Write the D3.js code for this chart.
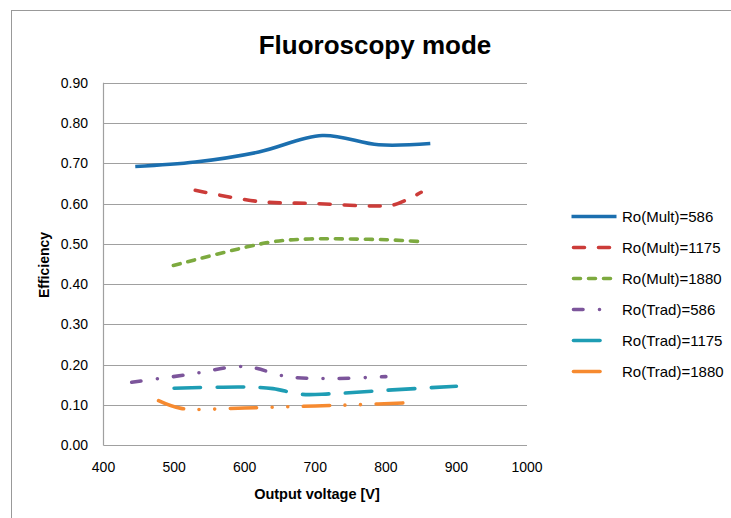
<!DOCTYPE html>
<html><head><meta charset="utf-8">
<script src="https://cdn.jsdelivr.net/npm/d3@7"></script>
<style>body{margin:0;background:#fff}svg{display:block}text{font-family:"Liberation Sans",Arial,sans-serif;fill:#000}</style>
</head><body><svg id="c" width="731" height="518"></svg>
<script>
const title = "Fluoroscopy mode";
const xTitle = "Output voltage [V]";
const yTitle = "Efficiency";
const xTicks = [400,500,600,700,800,900,1000];
const yTicks = [0,0.1,0.2,0.3,0.4,0.5,0.6,0.7,0.8,0.9];
const seriesNames = ["Ro(Mult)=586","Ro(Mult)=1175","Ro(Mult)=1880","Ro(Trad)=586","Ro(Trad)=1175","Ro(Trad)=1880"];
const multR586V  = [445,530,620,710,790,863];
const multR586E  = [0.692,0.703,0.728,0.769,0.746,0.749];
const multR1175V = [530,620,700,780,812,850];
const multR1175E = [0.633,0.605,0.600,0.594,0.597,0.628];
const multR1880V = [499,636,692,744,801,855];
const multR1880E = [0.446,0.504,0.512,0.512,0.510,0.505];
const tradR586V  = [440,520,600,660,720,800];
const tradR586E  = [0.156,0.175,0.195,0.170,0.165,0.170];
const tradR1175V = [500,600,640,680,720,800,900];
const tradR1175E = [0.141,0.144,0.140,0.126,0.127,0.136,0.146];
const tradR1880V = [478,510,600,700,760,830];
const tradR1880E = [0.110,0.091,0.092,0.097,0.100,0.105];

const colors = ["#1B6FAF","#CC3C39","#7DAA3F","#7C559B","#1E9DB4","#F68A30"];
const dashes = [null,"11,14","7,8","9.5,16.5,0,16","26.5,16.5","26.5,15.5,0,15.5,0,15.5"];
const series = [
  [multR586V,multR586E],[multR1175V,multR1175E],[multR1880V,multR1880E],
  [tradR586V,tradR586E],[tradR1175V,tradR1175E],[tradR1880V,tradR1880E]
].map((s,i)=>({name:seriesNames[i],pts:s[0].map((v,j)=>[v,s[1][j]])}));

const svg = d3.select("#c");
svg.append("rect").attr("x",11.5).attr("y",10.5).attr("width",760).attr("height",560)
  .attr("fill","none").attr("stroke","#999").attr("stroke-width",1);

const x = d3.scaleLinear().domain([400,1000]).range([103.5,527]);
const y = d3.scaleLinear().domain([0,0.9]).range([445,82.8]);

const g = svg.append("g");
g.selectAll("line.grid").data(yTicks).join("line").attr("class","grid")
  .attr("x1",x(400)).attr("x2",x(1000)).attr("y1",d=>Math.round(y(d))+0.5).attr("y2",d=>Math.round(y(d))+0.5)
  .attr("stroke","#A0A0A0").attr("stroke-width",1.2);
g.append("line").attr("x1",x(400)).attr("x2",x(400)).attr("y1",y(0.9)).attr("y2",y(0)+0.5)
  .attr("stroke","#A0A0A0").attr("stroke-width",1.2);

g.selectAll("text.yt").data(yTicks).join("text").attr("class","yt")
  .attr("x",88).attr("y",d=>y(d)+5).attr("text-anchor","end").attr("font-size",14)
  .text(d=>d.toFixed(2));
g.selectAll("text.xt").data(xTicks).join("text").attr("class","xt")
  .attr("x",d=>x(d)).attr("y",472).attr("text-anchor","middle").attr("font-size",14)
  .text(d=>d);

const line = d3.line().x(d=>x(d[0])).y(d=>y(d[1])).curve(d3.curveCatmullRom.alpha(0.5));
series.forEach((s,i)=>{
  g.append("path").attr("d",line(s.pts)).attr("fill","none").attr("stroke",colors[i])
    .attr("stroke-width",3.6).attr("stroke-linecap",i===0?"butt":"round")
    .attr("stroke-dasharray",dashes[i]);
});

svg.append("text").attr("x",375).attr("y",54).attr("text-anchor","middle")
  .attr("font-size",26).attr("font-weight","bold").text(title);
svg.append("text").attr("x",317).attr("y",499).attr("text-anchor","middle")
  .attr("font-size",14.5).attr("font-weight","bold").text(xTitle);
svg.append("text").attr("transform","translate(49,265) rotate(-90)").attr("text-anchor","middle")
  .attr("font-size",14).attr("font-weight","bold").text(yTitle);

const lg = svg.append("g");
series.forEach((s,i)=>{
  const ly = 216.5 + i*31;
  lg.append("line").attr("x1",i===0?571.5:573.5).attr("x2",i===0?616.5:614.5).attr("y1",ly).attr("y2",ly)
    .attr("stroke",colors[i]).attr("stroke-width",3.6).attr("stroke-linecap",i===0?"butt":"round")
    .attr("stroke-dasharray",dashes[i]);
  lg.append("text").attr("x",622).attr("y",ly+5).attr("font-size",15).text(s.name);
});
</script></body></html>
